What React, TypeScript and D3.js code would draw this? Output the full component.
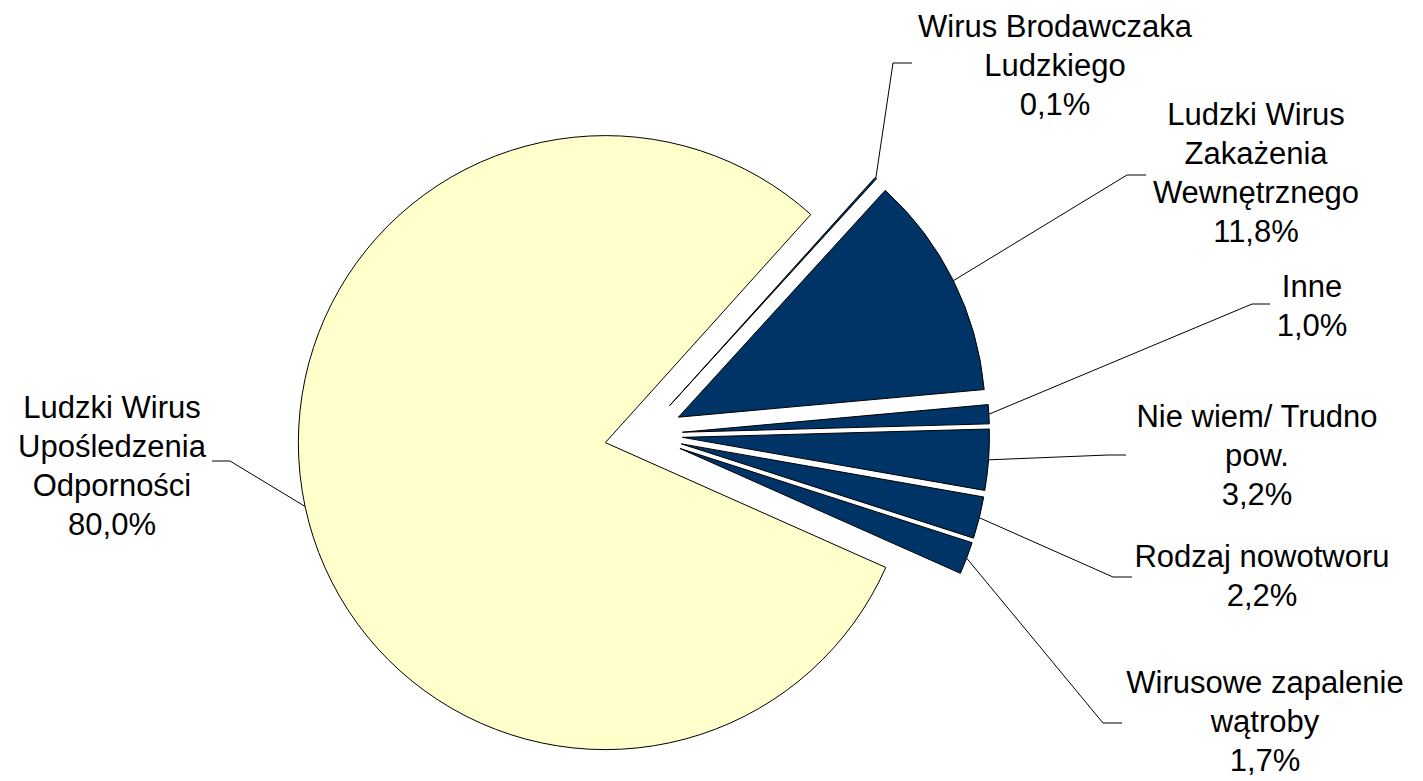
import React, { useEffect, useRef } from "react";
import * as d3 from "d3";

const categories = [
  "Wirus Brodawczaka Ludzkiego",
  "Ludzki Wirus Zakażenia Wewnętrznego",
  "Inne",
  "Nie wiem/ Trudno pow.",
  "Rodzaj nowotworu",
  "Wirusowe zapalenie wątroby",
  "Ludzki Wirus Upośledzenia Odporności",
];
const values = [0.1, 11.8, 1.0, 3.2, 2.2, 1.7, 80.0];
const labelLines = [
  ["Wirus Brodawczaka", "Ludzkiego"],
  ["Ludzki Wirus", "Zakażenia", "Wewnętrznego"],
  ["Inne"],
  ["Nie wiem/ Trudno", "pow."],
  ["Rodzaj nowotworu"],
  ["Wirusowe zapalenie", "wątroby"],
  ["Ludzki Wirus", "Upośledzenia", "Odporności"],
];
const colors = ["#003366", "#003366", "#003366", "#003366", "#003366", "#003366", "#FFFFCC"];

// label placement (text centre, first baseline, leader elbow and end)
const labelLayout = [
  { x: 1055, y: 37, ex: 893, ey: 63, endX: 912 },
  { x: 1256, y: 125, ex: 1127, ey: 175, endX: 1146 },
  { x: 1312, y: 297, ex: 1252, ey: 304, endX: 1270 },
  { x: 1257, y: 427, ex: 1108, ey: 455, endX: 1126 },
  { x: 1262, y: 567, ex: 1113, ey: 577, endX: 1132 },
  { x: 1265, y: 693, ex: 1103, ey: 723, endX: 1122 },
  { x: 112, y: 418, ex: 230, ey: 461, endX: 212 },
];

const width = 1423;
const height = 781;
const cx = 643.5;
const cy = 434.5;
const radius = 307;
const explode = 39;
const lineHeight = 39;

const App = () => {
  const svgRef = useRef(null);

  useEffect(() => {
    const svg = d3.select(svgRef.current);
    svg.selectAll("*").remove();

    const data = categories.map((name, i) => ({ name, value: values[i], i }));

    const pie = d3
      .pie()
      .sort(null)
      .value((d) => d.value)
      .startAngle((42 * Math.PI) / 180)
      .endAngle((42 * Math.PI) / 180 + 2 * Math.PI);

    const arc = d3.arc().innerRadius(0).outerRadius(radius);
    const arcs = pie(data);

    const g = svg.append("g").attr("transform", `translate(${cx}, ${cy})`);

    g.selectAll(".slice")
      .data(arcs)
      .enter()
      .append("path")
      .attr("class", "slice")
      .attr("d", arc)
      .attr("fill", (d) => colors[d.data.i])
      .attr("stroke", "#000")
      .attr("stroke-width", 1)
      .attr("stroke-linejoin", "miter")
      .attr("transform", (d) => {
        const a = (d.startAngle + d.endAngle) / 2;
        return `translate(${Math.sin(a) * explode}, ${-Math.cos(a) * explode})`;
      });

    // leader lines
    g.selectAll(".leader")
      .data(arcs)
      .enter()
      .append("polyline")
      .attr("class", "leader")
      .attr("fill", "none")
      .attr("stroke", "#000")
      .attr("stroke-width", 1)
      .attr("points", (d) => {
        const a = (d.startAngle + d.endAngle) / 2;
        const r = radius + explode;
        const l = labelLayout[d.data.i];
        const sx = Math.sin(a) * r;
        const sy = -Math.cos(a) * r;
        return `${sx},${sy} ${l.ex - cx},${l.ey - cy} ${l.endX - cx},${l.ey - cy}`;
      });

    const labels = svg
      .selectAll(".label")
      .data(data)
      .enter()
      .append("text")
      .attr("class", "label")
      .attr("text-anchor", "middle")
      .attr("font-family", "'Liberation Sans', Arial, sans-serif")
      .attr("font-size", 31)
      .attr("fill", "#000");

    labels.each(function (d) {
      const t = d3.select(this);
      const l = labelLayout[d.i];
      const lines = [...labelLines[d.i], d.value.toFixed(1).replace(".", ",") + "%"];
      lines.forEach((line, k) => {
        t.append("tspan")
          .attr("x", l.x)
          .attr("y", l.y + k * lineHeight)
          .text(line);
      });
    });
  }, []);

  return (
    <svg
      ref={svgRef}
      width={width}
      height={height}
      style={{ position: "absolute", left: 0, top: 0, background: "#fff" }}
    ></svg>
  );
};

export default App;
